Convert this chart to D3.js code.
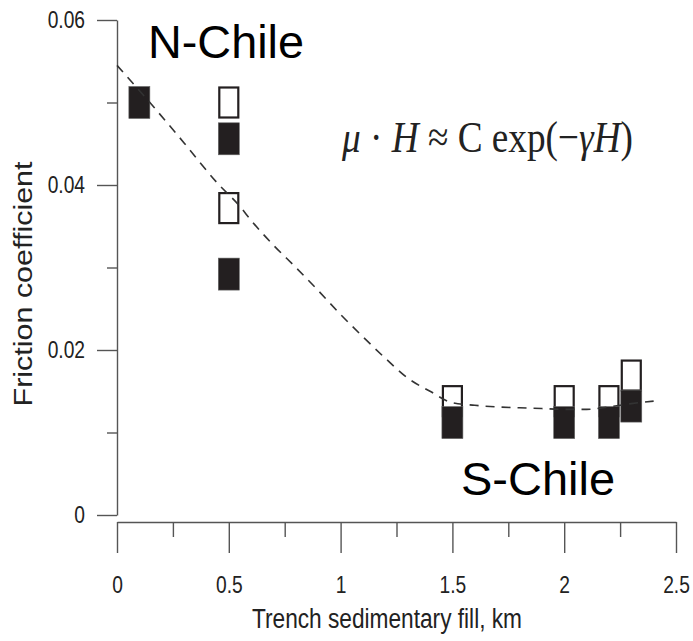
<!DOCTYPE html>
<html>
<head>
<meta charset="utf-8">
<script src="https://cdn.jsdelivr.net/npm/d3@7"></script>
<style>
  html, body { margin: 0; padding: 0; background: #fff; }
  svg { display: block; }
</style>
</head>
<body>
<svg id="chart" width="693" height="641"></svg>
<script>
// ---- data ----
const xTickValues = [0, 0.5, 1, 1.5, 2, 2.5];
const xTickLabels = ["0", "0.5", "1", "1.5", "2", "2.5"];
const xMinorTicks = [0.25, 0.75, 1.25, 1.75, 2.25];
const yTickValues = [0, 0.02, 0.04, 0.06];
const yTickLabels = ["0", "0.02", "0.04", "0.06"];
const yMinorTicks = [0.01, 0.03, 0.05];

// filled (black) markers: [fill km, friction]
const filledX = [0.1, 0.5, 0.5, 1.5, 2.0, 2.2, 2.3];
const filledY = [0.0500, 0.0456, 0.0292, 0.0112, 0.0112, 0.0112, 0.0132];
// hollow (white) markers
const hollowX = [0.5, 0.5, 1.5, 2.0, 2.2, 2.3];
const hollowY = [0.0500, 0.0372, 0.0138, 0.0138, 0.0138, 0.0169];

// dashed fit curve
const fitX = [0.0, 0.15, 0.3, 0.45, 0.55, 0.6, 0.7, 0.8, 0.9, 1.0, 1.1, 1.2, 1.3, 1.4, 1.5, 1.6, 1.7, 1.8, 1.9, 2.0, 2.1, 2.2, 2.3, 2.4];
const fitY = [0.0545, 0.0499, 0.0451, 0.0402, 0.0374, 0.0357, 0.0327, 0.0300, 0.0272, 0.0243, 0.0216, 0.0190, 0.0166, 0.0150, 0.0136, 0.0133, 0.0131, 0.0130, 0.0129, 0.0128, 0.0128, 0.0131, 0.0135, 0.0138];

const labels = { north: "N-Chile", south: "S-Chile", xTitle: "Trench sedimentary fill, km", yTitle: "Friction coefficient" };

// ---- drawing ----
const svg = d3.select("#chart");
const x = d3.scaleLinear().domain([0, 2.5]).range([117, 676]);
const y = d3.scaleLinear().domain([0, 0.06]).range([515, 20]);

const axisColor = "#555";
const sans = "'Liberation Sans', Arial, sans-serif";
const squeeze = 0.8;

// Y axis
const gy = svg.append("g").attr("transform", "translate(117,0)");
gy.call(d3.axisLeft(y).tickValues(yTickValues).tickSize(20).tickSizeOuter(0).tickPadding(12)
  .tickFormat((d, i) => yTickLabels[i]));
const gyMinor = svg.append("g").attr("transform", "translate(117,0)");
gyMinor.call(d3.axisLeft(y).tickValues(yMinorTicks).tickSize(10).tickSizeOuter(0).tickFormat(""));
gyMinor.select(".domain").remove();

// X axis
const gx = svg.append("g").attr("transform", "translate(0,522)");
gx.call(d3.axisBottom(x).tickValues(xTickValues).tickSize(31).tickSizeOuter(0).tickPadding(23)
  .tickFormat((d, i) => xTickLabels[i]));
const gxMinor = svg.append("g").attr("transform", "translate(0,522)");
gxMinor.call(d3.axisBottom(x).tickValues(xMinorTicks).tickSize(15).tickSizeOuter(0).tickFormat(""));
gxMinor.select(".domain").remove();

svg.selectAll(".domain, .tick line").attr("stroke", axisColor).attr("stroke-width", 1.4);
svg.selectAll(".tick text").attr("font-family", sans).attr("font-size", 24).attr("fill", "#222")
  .each(function () {
    const t = d3.select(this);
    const x0 = +t.attr("x") || 0;
    t.attr("x", x0 / squeeze).attr("transform", `scale(${squeeze},1)`);
  });

// Markers
const mw = 21, mh = 32;
svg.append("g").selectAll("rect").data(hollowX).join("rect")
  .attr("x", (d) => x(d) - mw / 2 + 1)
  .attr("y", (d, i) => y(hollowY[i]) - mh / 2 + 1)
  .attr("width", mw - 2).attr("height", mh - 2)
  .attr("fill", "#fff").attr("stroke", "#231f20").attr("stroke-width", 2.2);

svg.append("g").selectAll("rect").data(filledX).join("rect")
  .attr("x", (d) => x(d) - mw / 2)
  .attr("y", (d, i) => y(filledY[i]) - mh / 2)
  .attr("width", mw).attr("height", mh)
  .attr("fill", "#231f20").attr("stroke", "#666").attr("stroke-width", 0.6);

// Fit curve
const line = d3.line().x((d) => x(d)).y((d, i) => y(fitY[i])).curve(d3.curveMonotoneX);
svg.append("path").datum(fitX).attr("d", line)
  .attr("fill", "none").attr("stroke", "#333").attr("stroke-width", 1.6)
  .attr("stroke-dasharray", "9,7");

// Region labels
svg.append("text").attr("x", 148).attr("y", 58).text(labels.north)
  .attr("font-family", sans).attr("font-size", 46).attr("fill", "#000")
  .attr("textLength", 156).attr("lengthAdjust", "spacingAndGlyphs");
svg.append("text").attr("x", 461).attr("y", 495).text(labels.south)
  .attr("font-family", sans).attr("font-size", 46).attr("fill", "#000")
  .attr("textLength", 154).attr("lengthAdjust", "spacingAndGlyphs");

// Formula (horizontally condensed with a transform)
const fg = svg.append("g");
const f = fg.append("text").attr("x", 0).attr("y", 0)
  .attr("font-family", "'Liberation Serif', 'Times New Roman', serif").attr("font-size", 44).attr("fill", "#222");
f.append("tspan").attr("font-style", "italic").text("μ");
f.append("tspan").text(" · ");
f.append("tspan").attr("font-style", "italic").text("H");
f.append("tspan").text(" ≈ C exp(−");
f.append("tspan").attr("font-style", "italic").text("γH");
f.append("tspan").text(")");
const fw = f.node().getComputedTextLength();
fg.attr("transform", `translate(342,152) scale(${291 / fw},1)`);

// Axis titles
svg.append("text").attr("x", 387).attr("y", 628).attr("text-anchor", "middle").text(labels.xTitle)
  .attr("font-family", sans).attr("font-size", 27).attr("fill", "#222")
  .attr("textLength", 270).attr("lengthAdjust", "spacingAndGlyphs");
svg.append("text").attr("transform", "translate(32,284) rotate(-90)").attr("text-anchor", "middle")
  .text(labels.yTitle)
  .attr("font-family", sans).attr("font-size", 25).attr("fill", "#222")
  .attr("textLength", 245).attr("lengthAdjust", "spacingAndGlyphs");
</script>
</body>
</html>
